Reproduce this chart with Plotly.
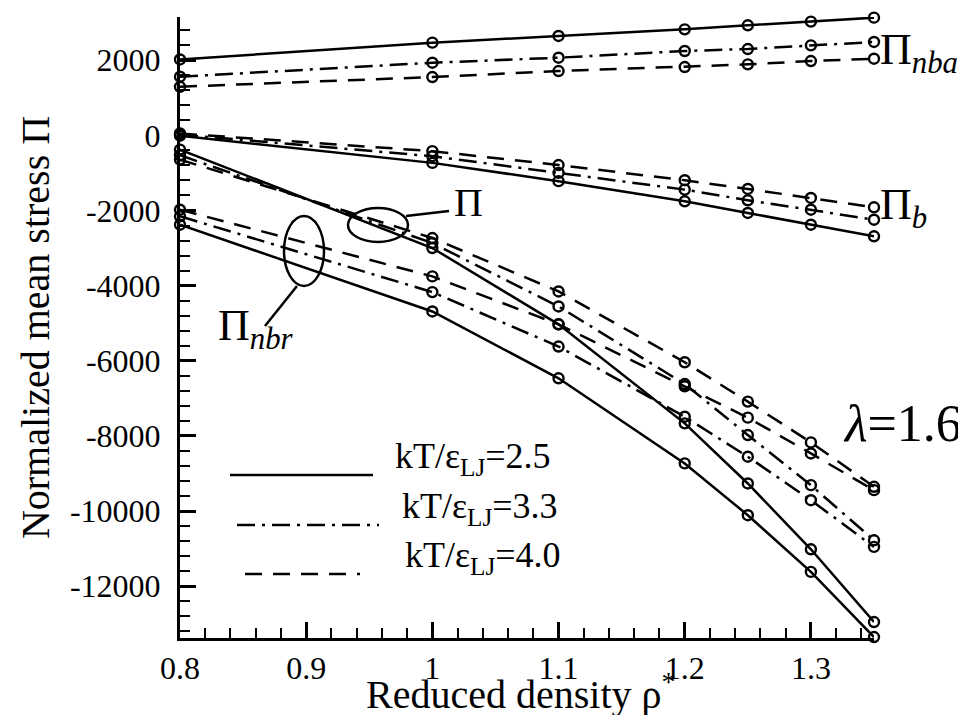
import plotly.graph_objects as go

# ---------------- data ----------------
density = [0.8, 1.0, 1.1, 1.2, 1.25, 1.3, 1.35]
temps = ["2.5", "3.3", "4.0"]

pi_nba_25 = [2020, 2467, 2645, 2821, 2929, 3027, 3133]
pi_nba_33 = [1560, 1933, 2067, 2245, 2298, 2395, 2485]
pi_nba_40 = [1293, 1552, 1712, 1818, 1889, 1978, 2040]

pi_b_25 = [-10, -733, -1220, -1755, -2067, -2379, -2688]
pi_b_33 = [20, -555, -1000, -1445, -1728, -1979, -2245]
pi_b_40 = [50, -421, -790, -1195, -1427, -1667, -1915]

pi_nbr_25 = [-2379, -4688, -6467, -8733, -10112, -11621, -13355]
pi_nbr_33 = [-2155, -4173, -5621, -7490, -8555, -9712, -10955]
pi_nbr_40 = [-1979, -3755, -5030, -6680, -7515, -8467, -9445]

pi_tot_25 = [-379, -3000, -5030, -7667, -9267, -11019, -12955]
pi_tot_33 = [-530, -2867, -4555, -6620, -7978, -9312, -10779]
pi_tot_40 = [-645, -2733, -4155, -6040, -7088, -8173, -9355]

x_tickvals = [0.8, 0.9, 1.0, 1.1, 1.2, 1.3]
x_ticktext = ["0.8", "0.9", "1", "1.1", "1.2", "1.3"]
y_tickvals = [2000, 0, -2000, -4000, -6000, -8000, -10000, -12000]
y_ticktext = ["2000", "0", "-2000", "-4000", "-6000", "-8000", "-10000", "-12000"]

# ---------------- styles ----------------
FONT = "Liberation Serif"
DASHED = "17px,11px"
DASHDOT = "18px,7px,3px,7px"
styles = {"2.5": "solid", "3.3": DASHDOT, "4.0": DASHED}

W, H = 966, 715
L, R, T, B = 172, 100, 9, 85
PW, PH = W - L - R, H - T - B


def px(xp, yp):
    return (xp - L) / PW, (H - B - yp) / PH


series = [
    (pi_nba_25, "2.5"), (pi_nba_33, "3.3"), (pi_nba_40, "4.0"),
    (pi_b_25, "2.5"), (pi_b_33, "3.3"), (pi_b_40, "4.0"),
    (pi_nbr_25, "2.5"), (pi_nbr_33, "3.3"), (pi_nbr_40, "4.0"),
    (pi_tot_25, "2.5"), (pi_tot_33, "3.3"), (pi_tot_40, "4.0"),
]

fig = go.Figure()
for ys, t in series:
    fig.add_trace(go.Scatter(
        x=density, y=ys, mode="lines+markers",
        line=dict(color="black", width=2.5, dash=styles[t]),
        marker=dict(symbol="circle-open", size=10, color="black",
                    line=dict(width=2.4, color="black")),
        cliponaxis=False, showlegend=False,
    ))

shapes = []
annotations = []

# legend (drawn manually)
leg_rows = [
    ("2.5", 222, 365, 467, 385, 450),
    ("3.3", 229, 371, 517, 392, 500),
    ("4.0", 237, 352, 566, 395, 549),
]
for t, xa, xb, yl, xt, yt in leg_rows:
    x0, y0 = px(xa, yl)
    x1, _ = px(xb, yl)
    shapes.append(dict(type="line", xref="paper", yref="paper", x0=x0, x1=x1, y0=y0, y1=y0,
                       line=dict(color="black", width=2.5, dash=styles[t])))
    ax, ay = px(xt, yt)
    annotations.append(dict(xref="paper", yref="paper", x=ax, y=ay, xanchor="left", yanchor="middle",
                            text="kT/ε<sub>LJ</sub>=" + t, showarrow=False,
                            font=dict(family=FONT, size=36, color="black")))

# ellipses and leader lines
def ellipse(cx, cy, rx, ry):
    x0, y0 = px(cx - rx, cy + ry)
    x1, y1 = px(cx + rx, cy - ry)
    shapes.append(dict(type="circle", xref="paper", yref="paper", x0=x0, x1=x1, y0=y0, y1=y1,
                       line=dict(color="black", width=2.5)))

def seg(xa, ya, xb, yb):
    x0, y0 = px(xa, ya)
    x1, y1 = px(xb, yb)
    shapes.append(dict(type="line", xref="paper", yref="paper", x0=x0, x1=x1, y0=y0, y1=y1,
                       line=dict(color="black", width=2.5)))

ellipse(370, 217, 30, 17)
seg(398, 208, 441, 203)
ellipse(296, 243, 20, 35)
seg(289, 278, 257, 318)

def label(text, xp, yp, size=44, anchor="left"):
    ax, ay = px(xp, yp)
    annotations.append(dict(xref="paper", yref="paper", x=ax, y=ay, xanchor=anchor, yanchor="middle",
                            text=text, showarrow=False,
                            font=dict(family=FONT, size=size, color="black")))

label("Π<sub><i>nba</i></sub>", 870, 44)
label("Π<sub><i>b</i></sub>", 870, 199)
label("Π", 444, 194, 40)
label("Π<sub><i>nbr</i></sub>", 208, 320)
label("<i>λ</i>=1.6", 833, 415, 52)
label("Reduced density ρ<sup>*</sup>", 512, 683, 40, "center")

axis_common = dict(
    showline=True, linewidth=3, linecolor="black", mirror=False,
    showgrid=False, zeroline=False, ticks="inside", tickwidth=2.5,
    tickcolor="black", ticklen=16,
    tickfont=dict(family=FONT, size=32, color="black"),
)

fig.update_layout(
    width=W, height=H,
    margin=dict(l=L, r=R, t=T, b=B, autoexpand=False),
    paper_bgcolor="white", plot_bgcolor="white",
    font=dict(family=FONT, color="black"),
    xaxis=dict(
        range=[0.8, 1.35], tickmode="array", tickvals=x_tickvals, ticktext=x_ticktext,
        minor=dict(dtick=0.02, tick0=0.8, ticks="inside", ticklen=10, tickwidth=1.5, tickcolor="black"),
        **axis_common,
    ),
    yaxis=dict(
        range=[-13380, 3150], tickmode="array", tickvals=y_tickvals, ticktext=y_ticktext,
        minor=dict(dtick=400, tick0=0, ticks="inside", ticklen=10, tickwidth=1.5, tickcolor="black"),
        title=dict(text="Normalized mean stress Π", font=dict(family=FONT, size=40, color="black"),
                   standoff=8),
        ticklabelstandoff=10,
        **axis_common,
    ),
    shapes=shapes,
    annotations=annotations,
)

fig.write_html("out.html")
